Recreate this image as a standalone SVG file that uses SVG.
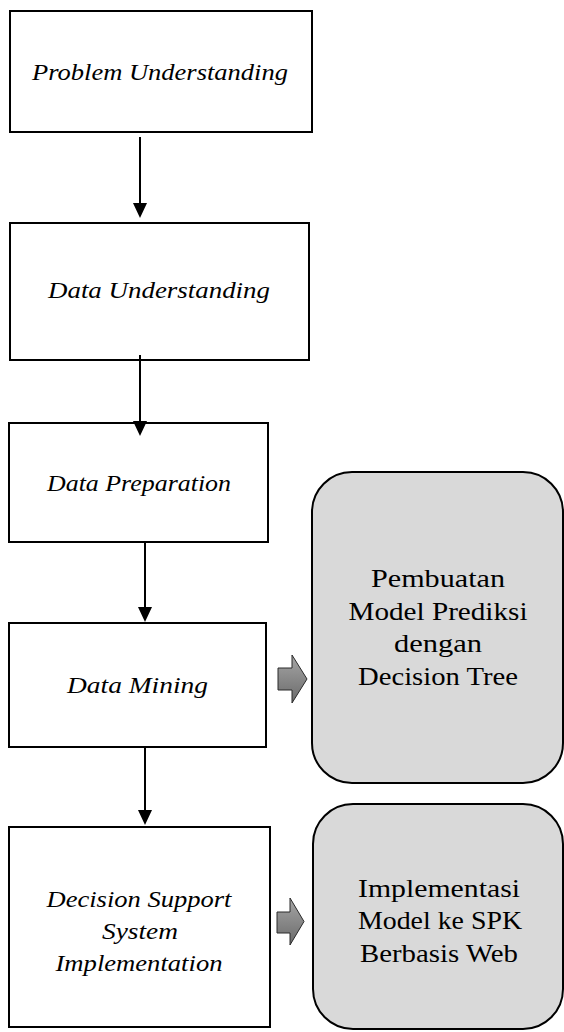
<svg xmlns="http://www.w3.org/2000/svg" width="564" height="1032" viewBox="0 0 564 1032">
<style>
.box{fill:#ffffff;stroke:#000;stroke-width:2}
.rbox{fill:#d9d9d9;stroke:#000;stroke-width:2}
.it{font-style:italic;font-size:24px;fill:#000;text-anchor:middle}
.rt{font-size:25px;fill:#000;text-anchor:middle}
.conn{stroke:#000;stroke-width:2;fill:none;marker-end:url(#ah)}
.blk{fill:url(#gg);stroke:#2a2a2a;stroke-width:1}
</style>
<defs>
<marker id="ah" viewBox="0 0 15 14" refX="12" refY="7" markerWidth="15" markerHeight="14" markerUnits="userSpaceOnUse" orient="auto">
<path d="M0,0 L15,7 L0,14 Z" fill="#000"/>
</marker>
<linearGradient id="gg" x1="0" y1="0" x2="0" y2="1">
<stop offset="0" stop-color="#a6a6a6"/>
<stop offset="1" stop-color="#6a6a6a"/>
</linearGradient>
</defs>
<g id="problem-understanding">
<rect class="box" x="10" y="11" width="302" height="121"/>
<text class="it" font-family="Liberation Serif, serif" x="160" y="80" textLength="256" lengthAdjust="spacingAndGlyphs">Problem Understanding</text>
</g>
<g id="data-understanding">
<rect class="box" x="10" y="223" width="299" height="137"/>
<text class="it" font-family="Liberation Serif, serif" x="159" y="298" textLength="222" lengthAdjust="spacingAndGlyphs">Data Understanding</text>
</g>
<g id="data-preparation">
<rect class="box" x="9" y="423" width="259" height="119"/>
<text class="it" font-family="Liberation Serif, serif" x="139" y="491" textLength="184" lengthAdjust="spacingAndGlyphs">Data Preparation</text>
</g>
<g id="data-mining">
<rect class="box" x="9" y="623" width="257" height="124"/>
<text class="it" font-family="Liberation Serif, serif" x="137.5" y="693" textLength="141" lengthAdjust="spacingAndGlyphs">Data Mining</text>
</g>
<g id="dss-implementation">
<rect class="box" x="9" y="827" width="261" height="200"/>
<text class="it" font-family="Liberation Serif, serif" x="139" y="907" textLength="185" lengthAdjust="spacingAndGlyphs">Decision Support</text>
<text class="it" font-family="Liberation Serif, serif" x="140" y="939" textLength="76" lengthAdjust="spacingAndGlyphs">System</text>
<text class="it" font-family="Liberation Serif, serif" x="139" y="971" textLength="167" lengthAdjust="spacingAndGlyphs">Implementation</text>
</g>
<g id="pembuatan-model">
<rect class="rbox" x="312" y="472" width="251" height="311" rx="40" ry="40"/>
<text class="rt" font-family="Liberation Serif, serif" x="438" y="587" textLength="134" lengthAdjust="spacingAndGlyphs">Pembuatan</text>
<text class="rt" font-family="Liberation Serif, serif" x="438" y="620" textLength="179" lengthAdjust="spacingAndGlyphs">Model Prediksi</text>
<text class="rt" font-family="Liberation Serif, serif" x="438" y="652" textLength="88" lengthAdjust="spacingAndGlyphs">dengan</text>
<text class="rt" font-family="Liberation Serif, serif" x="438" y="685" textLength="160" lengthAdjust="spacingAndGlyphs">Decision Tree</text>
</g>
<g id="implementasi-spk">
<rect class="rbox" x="313" y="804" width="250" height="225" rx="40" ry="40"/>
<text class="rt" font-family="Liberation Serif, serif" x="439" y="897" textLength="162" lengthAdjust="spacingAndGlyphs">Implementasi</text>
<text class="rt" font-family="Liberation Serif, serif" x="440" y="929" textLength="164" lengthAdjust="spacingAndGlyphs">Model ke SPK</text>
<text class="rt" font-family="Liberation Serif, serif" x="439" y="962" textLength="158" lengthAdjust="spacingAndGlyphs">Berbasis Web</text>
</g>
<g id="connectors">
<line class="conn" x1="140" y1="137" x2="140" y2="215"/>
<line class="conn" x1="140" y1="355" x2="140" y2="433"/>
<line class="conn" x1="145" y1="542" x2="145" y2="619"/>
<line class="conn" x1="145" y1="747" x2="145" y2="822"/>
<path class="blk" d="M278,668 H292 V655 L307,679 L292,703 V690 H278 Z"/>
<path class="blk" d="M277,912 H290 V898 L304,921.5 L290,945 V933 H277 Z"/>
</g>
</svg>
